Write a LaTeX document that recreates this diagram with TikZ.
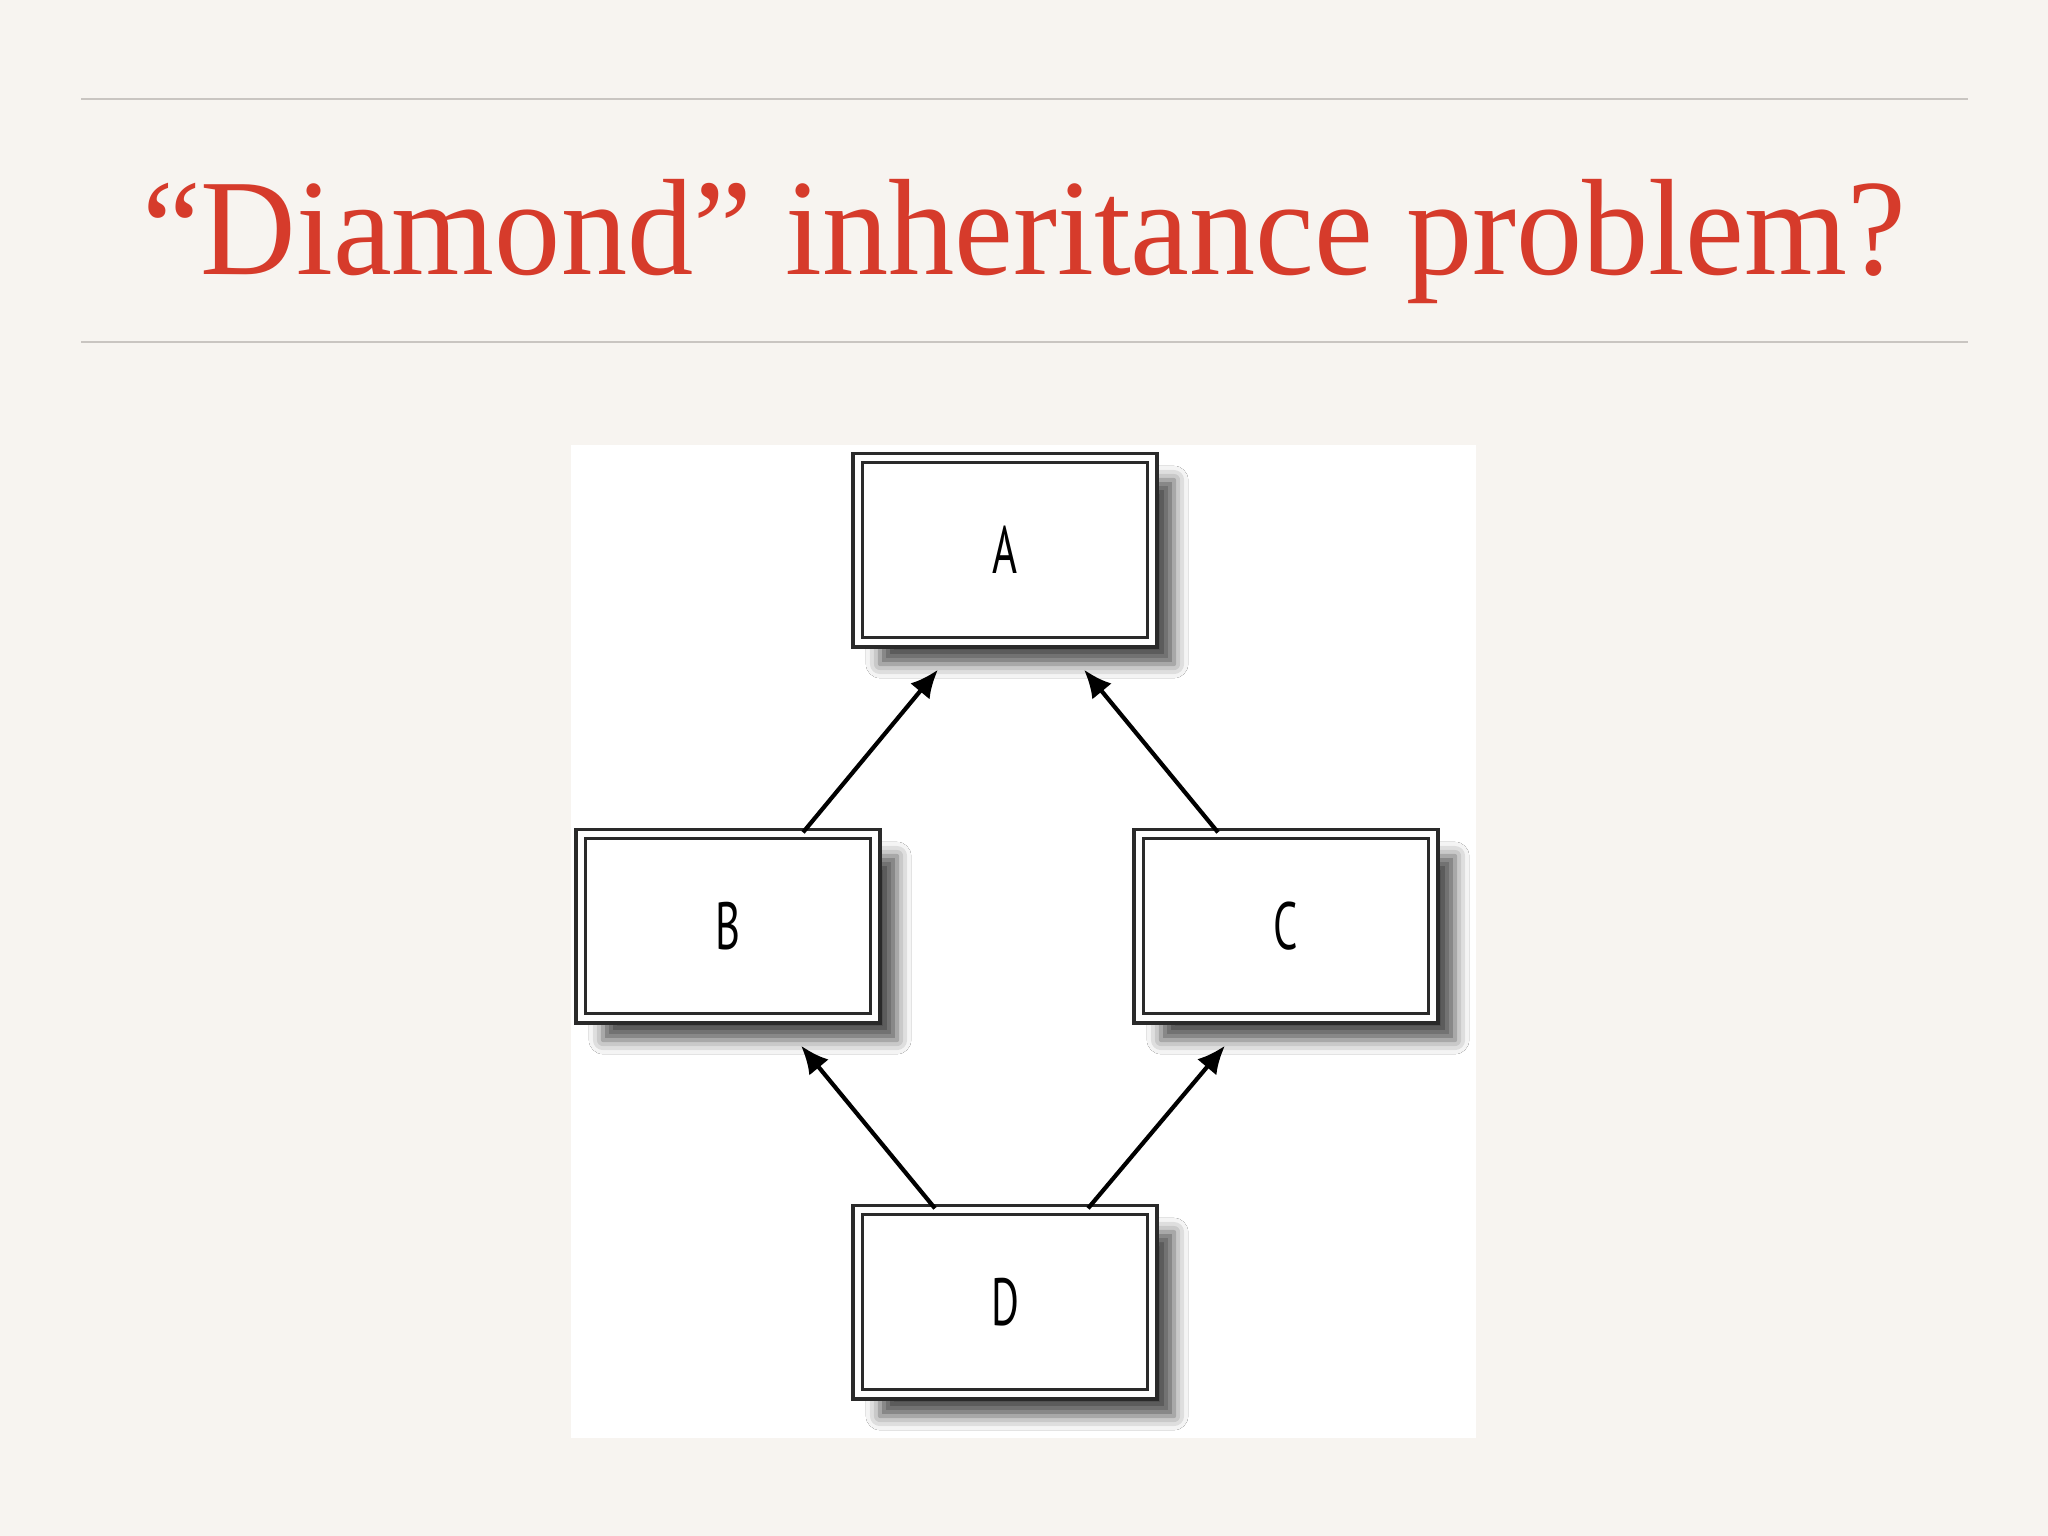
\documentclass[tikz,border=0pt]{standalone}
\usepackage{fontspec}
\setmainfont{Liberation Serif}
\newfontfamily\boxfont{PT Sans}
\usetikzlibrary{arrows.meta,shadows.blur}
\definecolor{slidebg}{HTML}{F7F4F0}
\definecolor{slidemid}{HTML}{E3DFDB}
\definecolor{titlered}{HTML}{D63B2B}
\definecolor{rulegray}{HTML}{C9C5C1}
\definecolor{boxgray}{HTML}{2A2A2A}
\newcommand{\boxlabel}[1]{\scalebox{0.64}[1]{\boxfont\fontsize{19}{20}\selectfont #1}}
\begin{document}
\begin{tikzpicture}[x=0.01cm,y=0.01cm,
	classbox/.style={draw=boxgray,line width=0.032cm,double=white,double distance=0.065cm,
		fill=white,minimum width=2.94cm,minimum height=1.84cm,inner sep=0pt,
		blur shadow={shadow xshift=0.22cm,shadow yshift=-0.22cm,shadow blur radius=0.14cm,shadow opacity=68}},
	inherit/.style={-{Latex[length=0.28cm,width=0.25cm]},line width=0.042cm,black}]
	\useasboundingbox (0,0) rectangle (2048,-1536);
	\shade [top color=slidebg,middle color=slidemid,bottom color=slidebg] (0,0) rectangle (2048,-1536);
	\draw [rulegray,line width=0.012cm] (81,-99) -- (1968,-99);
	\draw [rulegray,line width=0.012cm] (81,-342) -- (1968,-342);
	\node [anchor=base,titlered,font=\fontsize{39}{44}\selectfont] (title) at (1024,-274)
	{\scalebox{0.965}[1]{“Diamond” inheritance problem?}};
	\fill [white] (571,-445) rectangle (1476,-1438);
	\node [classbox] (A) at (1005,-550) {\boxlabel{A}};
	\node [classbox] (B) at (728,-926) {\boxlabel{B}};
	\node [classbox] (C) at (1286,-926) {\boxlabel{C}};
	\node [classbox] (D) at (1005,-1302) {\boxlabel{D}};
	\draw [inherit] ([xshift=0.75cm]B.north) -- ([xshift=-0.67cm,yshift=-0.26cm]A.south);
	\draw [inherit] ([xshift=-0.68cm]C.north) -- ([xshift=0.79cm,yshift=-0.26cm]A.south);
	\draw [inherit] ([xshift=-0.70cm]D.north) -- ([xshift=0.73cm,yshift=-0.26cm]B.south);
	\draw [inherit] ([xshift=0.83cm]D.north) -- ([xshift=-0.61cm,yshift=-0.26cm]C.south);
\end{tikzpicture}
\end{document}
